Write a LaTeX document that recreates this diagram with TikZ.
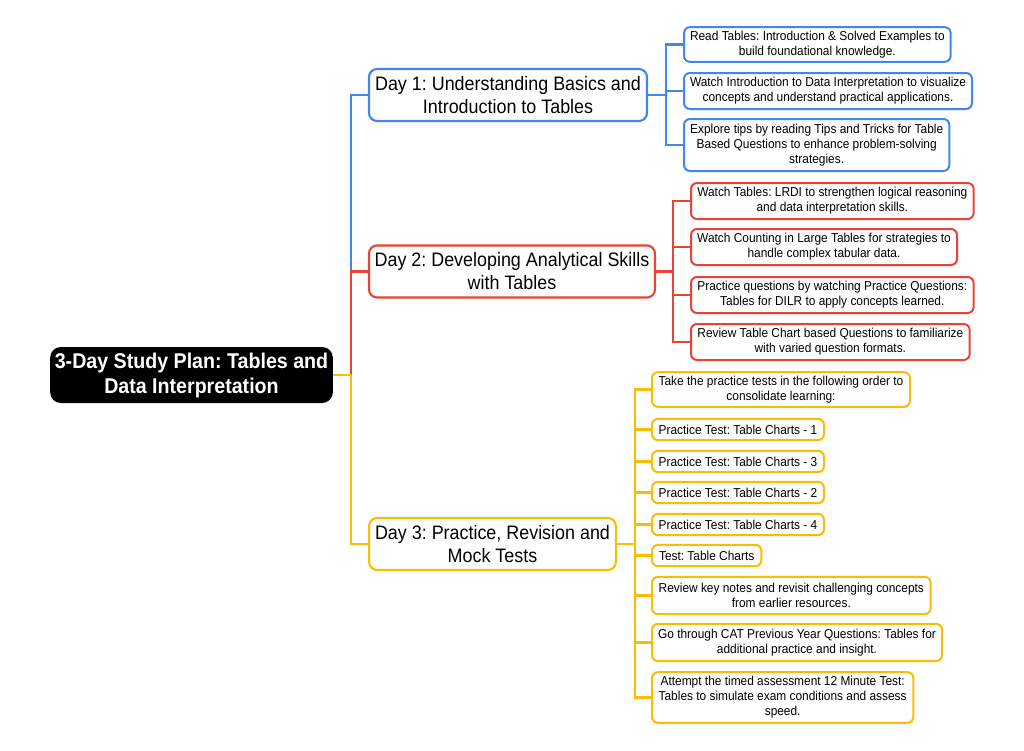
\documentclass[tikz,border=0pt]{standalone}
\usepackage{fontspec}
\setmainfont{Liberation Sans}[FakeStretch=0.92]
\definecolor{dayblue}{RGB}{66,133,244}
\definecolor{dayred}{RGB}{234,67,53}
\definecolor{dayyellow}{RGB}{251,188,4}
\frenchspacing
\begin{document}
\begin{tikzpicture}[x=0.75pt,y=-0.75pt,
  root/.style={fill=black,text=white,rounded corners=8pt,align=center,
    font=\fontsize{16}{18.75}\selectfont\bfseries,minimum width=212pt,minimum height=42pt},
  day/.style={draw=#1,line width=1.6pt,fill=white,rounded corners=6pt,align=center,
    font=\fontsize{14.6}{17.25}\selectfont,minimum height=39pt},
  leaf/.style={draw=#1,line width=1.5pt,fill=white,rounded corners=4.5pt,align=center,
    anchor=west,font=\fontsize{9.7}{11.25}\selectfont,inner sep=2pt},
  link/.style={draw=#1,line width=2pt}]
\fill[white] (0,0) rectangle (1024,750);
\useasboundingbox (0,0) rectangle (1024,750);
% centre
\node[root] (plan) at (191.5,375) {3-Day Study Plan: Tables and\\Data Interpretation};
% days
\node[day=dayblue,minimum width=208.5pt] (day1) at (508,95) {Day 1: Understanding Basics and\\Introduction to Tables};
\node[day=dayred,minimum width=214.5pt] (day2) at (512,271.5) {Day 2: Developing Analytical Skills\\with Tables};
\node[day=dayyellow,minimum width=185pt] (day3) at (492.5,544) {Day 3: Practice, Revision and\\Mock Tests};
% day 1
\node[leaf=dayblue,minimum width=200pt,minimum height=26pt] (read) at (683,44.5) {Read Tables: Introduction \& Solved Examples to\\build foundational knowledge.};
\node[leaf=dayblue,minimum width=216pt,minimum height=27pt] (intro) at (683,91) {Watch Introduction to Data Interpretation to visualize\\concepts and understand practical applications.};
\node[leaf=dayblue,minimum width=199pt,minimum height=39pt] (tips) at (683,145) {Explore tips by reading Tips and Tricks for Table\\Based Questions to enhance problem-solving\\strategies.};
% day 2
\node[leaf=dayred,minimum width=212pt,minimum height=27pt] (lrdi) at (690,201) {Watch Tables: LRDI to strengthen logical reasoning\\and data interpretation skills.};
\node[leaf=dayred,minimum width=199.5pt,minimum height=27pt] (count) at (690,247) {Watch Counting in Large Tables for strategies to\\handle complex tabular data.};
\node[leaf=dayred,minimum width=212pt,minimum height=27pt] (dilr) at (690,295) {Practice questions by watching Practice Questions:\\Tables for DILR to apply concepts learned.};
\node[leaf=dayred,minimum width=209pt,minimum height=27pt] (chart) at (690,342) {Review Table Chart based Questions to familiarize\\with varied question formats.};
% day 3
\node[leaf=dayyellow,minimum width=193.5pt,minimum height=26pt] (order) at (651,389.5) {Take the practice tests in the following order to\\consolidate learning:};
\foreach \n/\k/\y in {pt1/1/429.5,pt3/3/461.5,pt2/2/492.5,pt4/4/524.5}
  \node[leaf=dayyellow,minimum width=129pt,minimum height=16pt] (\n) at (651,\y) {Practice Test: Table Charts - \k};
\node[leaf=dayyellow,minimum width=82pt,minimum height=16pt] (test) at (651,555.5) {Test: Table Charts};
\node[leaf=dayyellow,minimum width=209pt,minimum height=28pt] (review) at (651,595.5) {Review key notes and revisit challenging concepts\\from earlier resources.};
\node[leaf=dayyellow,minimum width=217.5pt,minimum height=28pt] (pyq) at (651,642.5) {Go through CAT Previous Year Questions: Tables for\\additional practice and insight.};
\node[leaf=dayyellow,minimum width=196pt,minimum height=38pt] (timed) at (651,697.5) {Attempt the timed assessment 12 Minute Test:\\Tables to simulate exam conditions and assess\\speed.};
% branches
\foreach \n in {read,intro,tips} \draw[link=dayblue] (day1.east) -- ++(18,0) |- (\n.west);
\foreach \n in {lrdi,count,dilr,chart} \draw[link=dayred] (day2.east) -- ++(17,0) |- (\n.west);
\foreach \n in {order,pt1,pt3,pt2,pt4,test,review,pyq,timed} \draw[link=dayyellow] (day3.east) -- ++(18,0) |- (\n.west);
\draw[link=dayblue] (plan.east) -- ++(18,0) |- (day1.west);
\draw[link=dayred] (plan.east) -- ++(18,0) |- (day2.west);
\draw[link=dayyellow] (plan.east) -- ++(18,0) |- (day3.west);
\end{tikzpicture}
\end{document}
